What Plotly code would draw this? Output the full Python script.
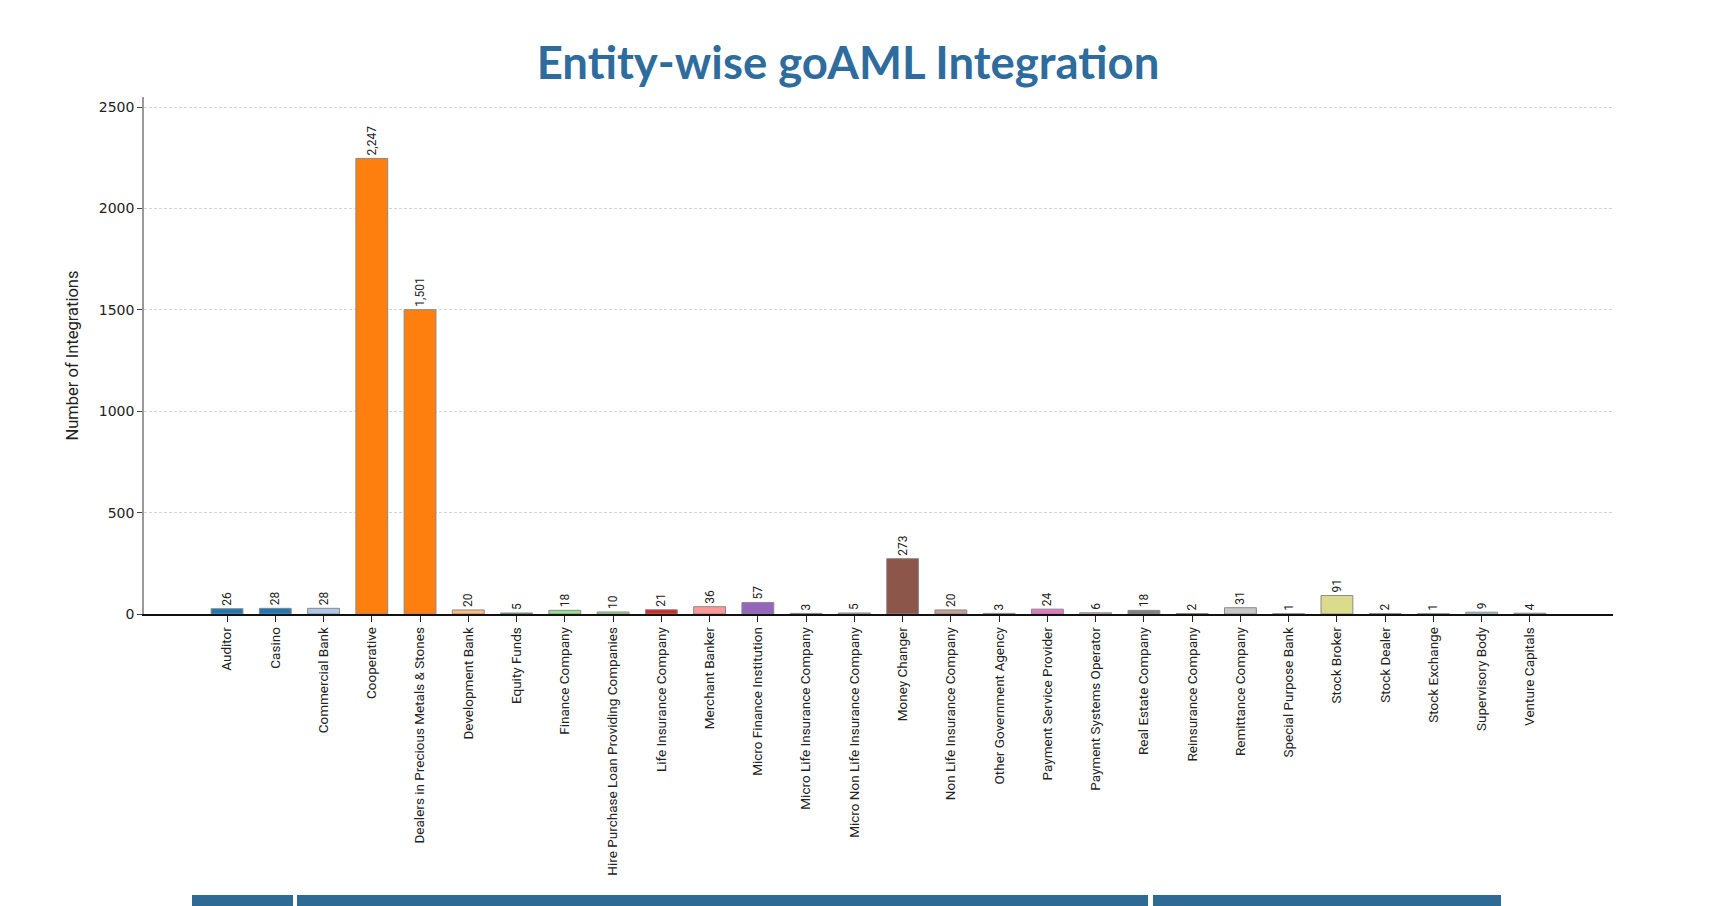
import plotly.graph_objects as go

categories = [
    "Auditor", "Casino", "Commercial Bank", "Cooperative",
    "Dealers in Precious Metals & Stones", "Development Bank", "Equity Funds",
    "Finance Company", "Hire Purchase Loan Providing Companies",
    "Life Insurance Company", "Merchant Banker", "Micro Finance Institution",
    "Micro Life Insurance Company", "Micro Non Life Insurance Company",
    "Money Changer", "Non Life Insurance Company", "Other Government Agency",
    "Payment Service Provider", "Payment Systems Operator", "Real Estate Company",
    "Reinsurance Company", "Remittance Company", "Special Purpose Bank",
    "Stock Broker", "Stock Dealer", "Stock Exchange", "Supervisory Body",
    "Venture Capitals",
]
integrations = [26, 28, 28, 2247, 1501, 20, 5, 18, 10, 21, 36, 57, 3, 5, 273,
                20, 3, 24, 6, 18, 2, 31, 1, 91, 2, 1, 9, 4]
y_tick_values = [0, 500, 1000, 1500, 2000, 2500]

bar_colors = [
    "#1f77b4", "#1f77b4", "#aec7e8", "#ff7f0e", "#ff7f0e", "#ffbb78", "#2ca02c",
    "#98df8a", "#98df8a", "#d62728", "#ff9896", "#9467bd", "#9467bd", "#c5b0d5",
    "#8c564b", "#c49c94", "#c49c94", "#e377c2", "#f7b6d2", "#7f7f7f", "#7f7f7f",
    "#c7c7c7", "#bcbd22", "#dbdb8d", "#dbdb8d", "#17becf", "#9edae5", "#9edae5",
]

W, H = 1732, 906
ML, MR, MT, MB = 144, 119, 97, 292
PW = W - ML - MR
PH = H - MT - MB

def px_to_paper_x(px):
    return (px - ML) / PW

def px_to_paper_y(py):
    return (H - MB - py) / PH

fig = go.Figure()
fig.add_trace(go.Bar(
    x=categories,
    y=integrations,
    width=0.66,
    marker=dict(color=bar_colors, line=dict(color="#8a8a8a", width=1)),
    texttemplate="%{y:,}",
    textposition="outside",
    textangle=-90,
    constraintext="none",
    cliponaxis=False,
    textfont=dict(family="Roboto", size=12, color="#222222"),
    showlegend=False,
))

fig.update_layout(
    width=W, height=H,
    margin=dict(l=ML, r=MR, t=MT, b=MB, autoexpand=False),
    paper_bgcolor="white",
    plot_bgcolor="white",
    bargap=0.34,
    title=dict(
        text="Entity-wise goAML Integration",
        x=848 / W, xref="container", xanchor="center",
        y=1 - 63 / H, yref="container", yanchor="middle",
        font=dict(family="Lato", size=45.5, color="#2E6C9E", weight="bold"),
    ),
    xaxis=dict(
        type="category",
        range=[-1.72, 28.72],
        tickangle=-90,
        ticks="outside", ticklen=6, tickwidth=1, tickcolor="#222222",
        showline=True, linecolor="#111111", linewidth=1.5,
        showgrid=False, zeroline=False,
        tickfont=dict(family="Roboto", size=13.5, color="#222222"),
        automargin=False,
    ),
    yaxis=dict(
        range=[0, 2550],
        tickvals=y_tick_values,
        ticks="outside", ticklen=5, tickwidth=1, tickcolor="#444444",
        showline=True, linecolor="#9a9a9a", linewidth=1.5,
        showgrid=True, gridcolor="#d4d4d4", griddash="3px,2px", gridwidth=1,
        zeroline=False,
        tickfont=dict(family="DejaVu Sans", size=14, color="#222222"),
        automargin=False,
    ),
    annotations=[dict(
        text="Number of Integrations",
        xref="paper", yref="paper",
        x=px_to_paper_x(72), y=0.5,
        xanchor="center", yanchor="middle",
        textangle=-90, showarrow=False,
        font=dict(family="Roboto", size=16.5, color="#222222"),
    )],
)

# decorative page bars at the bottom of the screenshot
for x0, x1 in [(192, 293), (297, 1148), (1153, 1501)]:
    fig.add_shape(
        type="rect", xref="paper", yref="paper",
        x0=px_to_paper_x(x0), x1=px_to_paper_x(x1),
        y0=px_to_paper_y(912), y1=px_to_paper_y(895),
        fillcolor="#2D6A96", line=dict(width=0), layer="above",
    )

fig.write_html("out.html")
